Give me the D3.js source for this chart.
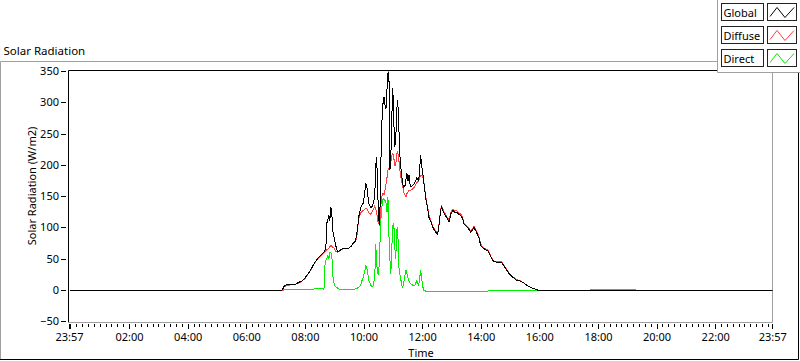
<!DOCTYPE html>
<html><head><meta charset="utf-8">
<script src="https://cdn.jsdelivr.net/npm/d3@7"></script>
<style>
body{margin:0;background:#fff}
svg{display:block}
text{font-family:"Noto Sans",sans-serif;font-size:11px;fill:#000}
</style>
</head><body>
<svg id="chart" width="800" height="361"></svg>
<script>
// ---------- data ----------
const times = ["23:57","07:12","07:16","07:20","07:30","07:40","07:46","07:53","07:59","08:05","08:11","08:17","08:23","08:27","08:31","08:38","08:40","08:42","08:44","08:46","08:48","08:50","08:52","08:54","08:56","08:58","09:00","09:02","09:06","09:10","09:17","09:23","09:29","09:33","09:37","09:41","09:43","09:45","09:47","09:49","09:53","09:55","09:58","10:00","10:02","10:04","10:06","10:08","10:10","10:14","10:18","10:22","10:24","10:26","10:28","10:30","10:32","10:34","10:36","10:39","10:41","10:43","10:45","10:47","10:49","10:51","10:53","10:55","10:57","10:59","11:01","11:03","11:05","11:07","11:09","11:11","11:13","11:15","11:17","11:19","11:21","11:24","11:26","11:28","11:30","11:32","11:34","11:36","11:40","11:44","11:48","11:52","11:54","11:56","11:58","12:00","12:02","12:07","12:11","12:13","12:17","12:21","12:25","12:29","12:31","12:33","12:37","12:39","12:43","12:48","12:52","12:54","12:58","13:02","13:06","13:10","13:14","13:18","13:22","13:24","13:29","13:33","13:39","13:43","13:45","13:49","13:55","13:59","14:05","14:14","14:16","14:20","14:26","14:34","14:42","14:46","14:50","14:57","15:05","15:11","15:21","15:27","15:38","15:48","15:58","16:14","16:16","18:04","18:06","23:57"];
const globalRad = [0,0,6,9,9.5,10,13,15,20,26,33,42,49,53,56,61,65,70,108,113,120,112,133,125,96,88,80,72,62,64,67,67,68,70,75,78,80,90,100,117,131,136,139,148,160,171,165,150,138,132,136,150,200,213,160,115,104,180,261,300,309,296,290,320,347,350,192,215,280,323,270,230,240,288,304,270,220,200,185,171,165,168,178,187,175,185,170,166,168,172,180,176,195,216,200,190,175,145,128,117,110,101,95,91,90,101,128,133,125,118,113,109,123,128,125,125,122,120,115,107,103,100,93,98,101,95,85,72,67,63,60,53,46,45,45,40,35,27,21,17,15,12,6,3,0,0,0,0,0,0];
const diffuseRad = [0,0,5,8,9,10,12,15,19,26,33,41,49,52,55,60,62,64,65,66,68,70,72,71,69,68,66,63,61,63,67,67,68,70,74,77,79,85,98,115,124,126,128,129,130,131,130,128,124,122,128,135,130,125,112,107,104,130,150,155,152,160,170,180,192,195,195,205,215,220,212,200,200,218,222,212,195,183,175,168,158,152,150,155,157,160,160,160,163,166,172,175,180,184,184,183,176,148,130,120,112,102,97,93,92,102,130,135,127,120,115,111,125,130,128,127,124,122,117,109,104,101,95,100,103,97,87,74,68,65,62,54,47,46,46,41,36,28,22,18,15,12,6,3,0,0,0,0,0,0];
const directRad = [0,0,1,1,1,1,1,1,1,1,1,2,4,4,3,2,40,48,52,56,50,61,60,58,25,14,8,6,4,2,1,1,1,1,2,2,3,4,4,5,8,14,20,27,33,40,35,25,16,8,6,20,75,43,27,25,60,105,130,147,145,144,140,125,149,90,50,27,70,104,107,70,50,96,101,40,27,21,8,5,10,25,32,27,20,16,12,11,8,8,16,8,20,32,20,8,0,-1,-2,-2,-2,-2,-2,-2,-2,-2,-2,-2,-2,-2,-2,-2,-2,-2,-2,-2,-2,-2,-2,-2,-2,-2,-2,-2,-2,-2,-2,-2,-1,-1,0,0,0,0,0,0,0,0,0,0,0,0,0,0,0,0,0,1,1,0,0];
const seriesNames = ["Global","Diffuse","Direct"];
const seriesColors = ["#000000","#ff4040","#00f000"];
const yTicks = [-50,0,50,100,150,200,250,300,350];
const xMajorTicks = ["23:57","00:00","02:00","04:00","06:00","08:00","10:00","12:00","14:00","16:00","18:00","20:00","22:00","23:57"];
const hiddenTickLabels = ["00:00"];
const chartTitle = "Solar Radiation";
const yTitle = "Solar Radiation (W/m2)";
const xTitle = "Time";

// ---------- helpers ----------
const base = new Date(2024,0,2,0,0,0).getTime();
function toDate(s, i){
  const [h,m] = s.split(":").map(Number);
  let min = h*60+m;
  if(i===0) min -= 1440;           // first stamp belongs to the previous day
  return new Date(base + min*60000);
}
const svg = d3.select("#chart");

const x = d3.scaleTime().domain([toDate("23:57",0), toDate("23:57",1)]).range([69, 772.3]);
const y = d3.scaleLinear().domain([-50,350]).range([321.3, 71]);

// outer frame
svg.append("path").attr("d","M0.5,359.5V61.5H717").attr("fill","none").attr("stroke","#a0a0a0");
svg.append("path").attr("d","M0,359.5H798.5V61").attr("fill","none").attr("stroke","#000");

// title
svg.append("text").attr("x",3.5).attr("y",55).style("font-size","11.5px").text(chartTitle);

// plot frame
svg.append("path").attr("d","M68.5,322.5V70.5H773").attr("fill","none").attr("stroke","#000");
svg.append("path").attr("d","M68,322.5H772.5V70").attr("fill","none").attr("stroke","#a0a0a0");

// data lines
const clip = svg.append("clipPath").attr("id","clip").append("rect")
  .attr("x",69).attr("y",71).attr("width",703).attr("height",251);
const dates = times.map((t,i)=>toDate(t, i===0?0:1));
const seriesVals = [globalRad, diffuseRad, directRad];
const line = d3.line().x(d=>x(d[0])).y(d=>y(d[1]));
const gLines = svg.append("g").attr("clip-path","url(#clip)").attr("transform","translate(0.5,0.5)");
[2,1,0].forEach(k=>{
  gLines.append("path")
    .datum(dates.map((d,i)=>[d, seriesVals[k][i]]))
    .attr("d", line).attr("fill","none").attr("stroke", seriesColors[k])
    .attr("stroke-width",1).attr("shape-rendering","crispEdges");
});

// y axis
const yAxis = d3.axisLeft(y).tickValues(yTicks).tickSize(5).tickPadding(2).tickFormat(d3.format("d"));
const gy = svg.append("g").attr("transform","translate(66,0)").call(yAxis);
gy.select(".domain").remove();
gy.selectAll("line").attr("stroke","#000").attr("shape-rendering","crispEdges");
gy.selectAll("text").style("font-family","'Noto Sans',sans-serif").style("font-size","11px").attr("fill","#000");

// x axis: minor ticks
const start = toDate("23:57",0), end = toDate("23:57",1);
const minor = d3.timeMinute.every(12).range(start, end).filter(d=>!(d.getMinutes()===0 && d.getHours()%2===0));
const gxm = svg.append("g").attr("transform","translate(0,324)")
  .call(d3.axisBottom(x).tickValues(minor).tickSize(3).tickFormat(""));
gxm.select(".domain").remove();
gxm.selectAll("line").attr("stroke","#000").attr("shape-rendering","crispEdges");

// x axis: major ticks
const majors = xMajorTicks.map((t,i)=>toDate(t, i===0?0:1));
const fmt = d3.timeFormat("%H:%M");
const gx = svg.append("g").attr("transform","translate(0,324)")
  .call(d3.axisBottom(x).tickValues(majors).tickSize(5).tickPadding(4)
    .tickFormat((d,i)=> (i===1 ? "" : fmt(d))));
gx.select(".domain").remove();
gx.selectAll("line").attr("stroke","#000").attr("shape-rendering","crispEdges");
gx.selectAll("text").style("font-family","'Noto Sans',sans-serif").style("font-size","11px").attr("fill","#000");

// axis titles
svg.append("text").attr("transform","translate(36,186) rotate(-90)").attr("text-anchor","middle").text(yTitle);
svg.append("text").attr("x",421).attr("y",357).attr("text-anchor","middle").text(xTitle);

// legend panel
svg.append("rect").attr("x",718).attr("y",0).attr("width",82).attr("height",72).attr("fill","#fff");
svg.append("path").attr("d","M717.5,0V72.5H800").attr("fill","none").attr("stroke","#a0a0a0");
const rowsY = [3.5, 26.5, 49.5];
seriesNames.forEach((name,k)=>{
  const g = svg.append("g").attr("transform",`translate(0,${rowsY[k]})`);
  g.append("rect").attr("x",721.5).attr("y",0).attr("width",42).attr("height",17)
    .attr("fill","#fff").attr("stroke","#222");
  g.append("text").attr("x",723.5).attr("y",13.5).text(name);
  g.append("rect").attr("x",767.5).attr("y",0).attr("width",29).attr("height",17)
    .attr("fill","#fff").attr("stroke","#222");
  g.append("path").attr("d","M770,13L777,4L785,14L794,4").attr("fill","none")
    .attr("stroke",seriesColors[k]).attr("stroke-width",1);
});
</script>
</body></html>
